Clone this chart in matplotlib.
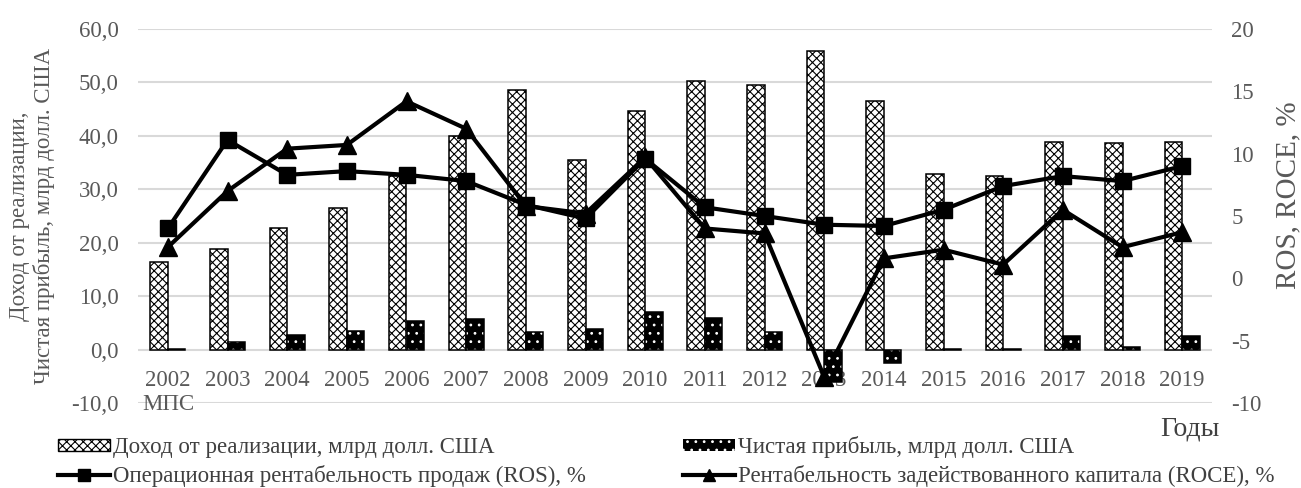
import matplotlib
matplotlib.use("Agg")
import matplotlib.pyplot as plt
import numpy as np
from matplotlib.patches import Patch
from matplotlib.lines import Line2D

years = ["2002", "2003", "2004", "2005", "2006", "2007", "2008", "2009", "2010",
         "2011", "2012", "2013", "2014", "2015", "2016", "2017", "2018", "2019"]
revenue = [16.3, 18.8, 22.7, 26.5, 32.5, 39.9, 48.5, 35.4, 44.7,
           50.3, 49.6, 55.8, 46.5, 32.8, 32.4, 38.8, 38.6, 38.9]
net_profit = [0.1, 1.4, 2.8, 3.4, 5.3, 5.7, 3.2, 3.9, 7.0,
              5.9, 3.2, -6.1, -2.6, 0.1, 0.1, 2.6, 0.4, 2.6]
ros = [4.0, 11.1, 8.3, 8.6, 8.3, 7.8, 5.9, 4.8, 9.6,
       5.7, 5.0, 4.3, 4.2, 5.5, 7.4, 8.2, 7.8, 9.0]
roce = [2.5, 7.0, 10.4, 10.7, 14.2, 12.0, 5.8, 5.2, 9.7,
        4.0, 3.6, -7.9, 1.6, 2.3, 1.1, 5.5, 2.5, 3.7]

left_ticks = [-10, 0, 10, 20, 30, 40, 50, 60]
right_ticks = [-10, -5, 0, 5, 10, 15, 20]

lbl_rev = "Доход от реализации, млрд долл. США"
lbl_net = "Чистая прибыль, млрд долл. США"
lbl_ros = "Операционная рентабельность продаж (ROS), %"
lbl_roce = "Рентабельность задействованного капитала (ROCE), %"

plt.rcParams["font.family"] = ["Liberation Serif", "DejaVu Serif"]
plt.rcParams["hatch.linewidth"] = 0.8

GRAY = "#595959"
DARK = "#404040"
W, H = 1301, 488
fig = plt.figure(figsize=(W / 100, H / 100), dpi=100)
ax = fig.add_axes([138 / W, 1 - 403 / H, (1212 - 138) / W, (403 - 29) / H])

x = np.arange(len(years))
bw = 0.293

# revenue bars: white with a dense zig-zag texture
ax.bar(x - bw / 2, revenue, bw, facecolor="white", edgecolor="black",
       hatch="xxxx", linewidth=1.1, zorder=3)
# net profit bars: black with white dots, then a black outline
ax.bar(x + bw / 2, net_profit, bw, facecolor="black", edgecolor="white",
       hatch="..", linewidth=0, zorder=3)
ax.bar(x + bw / 2, net_profit, bw, fill=False, edgecolor="black",
       linewidth=1.1, zorder=3)

ax.set_xlim(-0.5, len(years) - 0.5)
ax.set_ylim(-10, 60)
ax.set_yticks(left_ticks)
ax.set_yticklabels([f"{v:.1f}".replace(".", ",") for v in left_ticks])
ax.grid(axis="y", color="#d9d9d9", linewidth=1.5, zorder=0)
ax.set_axisbelow(True)
ax.set_xticks([])
for s in ax.spines.values():
    s.set_visible(False)
ax.tick_params(axis="y", length=0, pad=14, labelsize=16.5, labelcolor=GRAY)

# category labels sit just under the zero line, behind the bars
for i, yr in enumerate(years):
    ax.text(i, -5.8, yr, ha="center", va="center", fontsize=16.5,
            color=GRAY, zorder=1)
ax.text(-0.43, -10.2, "МПС", ha="left", va="center", fontsize=16.5,
        color=GRAY, zorder=1)

ax2 = ax.twinx()
ax2.set_ylim(-10, 20)
ax2.set_yticks(right_ticks)
ax2.set_yticklabels([str(v) for v in right_ticks])
for s in ax2.spines.values():
    s.set_visible(False)
ax2.tick_params(axis="y", length=0, pad=14, labelsize=16.5, labelcolor=GRAY)

ax2.plot(x, roce, color="black", linewidth=3, marker="^", markersize=12.5,
         zorder=4)
ax2.plot(x, ros, color="black", linewidth=3, marker="s", markersize=11.5,
         zorder=5)

fig.text(32 / W, 1 - 216 / H, "Доход от реализации,\nЧистая прибыль, млрд долл. США",
         rotation=90, ha="center", va="center", multialignment="center",
         fontsize=16.5, color=GRAY, linespacing=1.15)
fig.text(1288 / W, 1 - 195 / H, "ROS, ROCE, %", rotation=90, ha="center",
         va="center", fontsize=21, color=GRAY)
fig.text(1190 / W, 1 - 429 / H, "Годы", ha="center", va="center",
         fontsize=20, color=DARK)

handles = [
    Patch(facecolor="white", edgecolor="black", hatch="xxxx", linewidth=1),
    Line2D([], [], color="black", linewidth=3, marker="s", markersize=9),
    Patch(facecolor="black", edgecolor="white", hatch="..", linewidth=0),
    Line2D([], [], color="black", linewidth=3, marker="^", markersize=9),
]
labels = [lbl_rev, lbl_ros, lbl_net, lbl_roce]
fig.legend(handles, labels, ncol=2, loc="upper left",
           bbox_to_anchor=(58 / W, 1 - 436 / H), frameon=False,
           fontsize=16.5, handlelength=2.27, handleheight=0.42,
           handletextpad=0.15, columnspacing=4.2, labelspacing=0.3,
           borderpad=0, borderaxespad=0, labelcolor=DARK)

fig.savefig("out.png", dpi=100)
